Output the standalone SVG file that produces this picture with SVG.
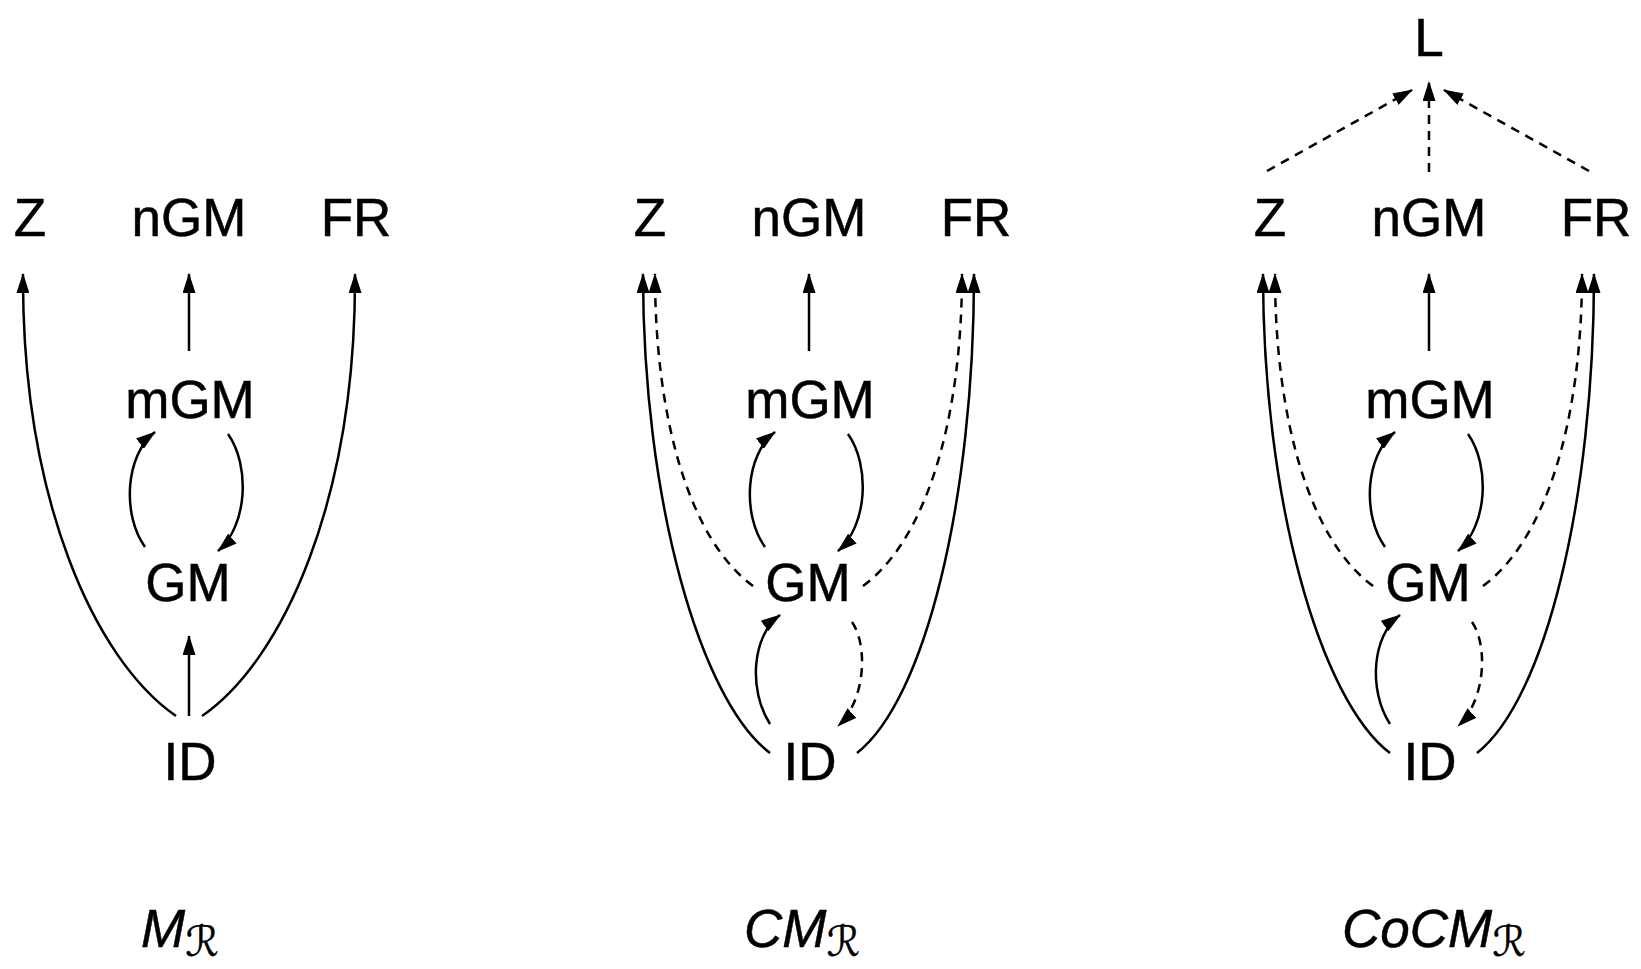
<svg xmlns="http://www.w3.org/2000/svg" width="1641" height="969" viewBox="0 0 1641 969">
<style>
.n{font-family:"Liberation Sans",Arial,sans-serif;font-size:53px;fill:#000;text-anchor:middle;stroke:#000;stroke-width:0.5}
.lab{font-family:"Liberation Sans",Arial,sans-serif;font-size:53px;font-style:italic;fill:#000;stroke:#000;stroke-width:0.5}
.sub{font-family:"DejaVu Sans",sans-serif;font-size:42px;font-style:normal;stroke-width:0.3}
.c{fill:none;stroke:#000;stroke-width:2.5;marker-end:url(#ah)}
.d{stroke-dasharray:9 7}
</style>
<defs>
<marker id="ah" viewBox="0 0 20 13" refX="19" refY="6.5" markerWidth="20" markerHeight="13" markerUnits="userSpaceOnUse" orient="auto">
<path d="M0,0 L20,6.5 L0,13 z" fill="#000"/>
</marker>
</defs>
<rect width="1641" height="969" fill="#fff"/>
<g id="connectors">
<!-- panel 1 -->
<path class="c" d="M189,351 V274"/>
<path class="c" d="M145,547 C122,515 125,455 155,432"/>
<path class="c" d="M228,434 C250,465 248,525 218,551"/>
<path class="c" d="M189,716 V636"/>
<path class="c" d="M176,716 C95,660 22,500 23,274"/>
<path class="c" d="M202,716 C283,660 356,500 355,274"/>
<!-- panel 2 -->
<path class="c" d="M809,351 V274"/>
<path class="c" d="M765,547 C742,515 745,455 775,432"/>
<path class="c" d="M848,434 C870,465 868,525 838,551"/>
<path class="c" d="M770,753 C700,700 643,500 643,274"/>
<path class="c d" d="M753,586 C690,540 655,420 655,274"/>
<path class="c" d="M857,753 C925,700 974,500 974,274"/>
<path class="c d" d="M863,586 C926,540 962,420 962,274"/>
<path class="c" d="M770,724 C748,690 752,635 780,615"/>
<path class="c d" d="M852,622 C868,645 866,700 838,726"/>
<!-- panel 3 -->
<path class="c" d="M1429,351 V274"/>
<path class="c" d="M1385,547 C1362,515 1365,455 1395,432"/>
<path class="c" d="M1468,434 C1490,465 1488,525 1458,551"/>
<path class="c" d="M1390,753 C1320,700 1263,500 1263,274"/>
<path class="c d" d="M1373,586 C1310,540 1275,420 1275,274"/>
<path class="c" d="M1477,753 C1545,700 1594,500 1594,274"/>
<path class="c d" d="M1483,586 C1546,540 1582,420 1582,274"/>
<path class="c" d="M1390,724 C1368,690 1372,635 1400,615"/>
<path class="c d" d="M1472,622 C1488,645 1486,700 1458,726"/>
<path class="c d" d="M1267,171 L1412,90"/>
<path class="c d" d="M1429,172 V82"/>
<path class="c d" d="M1589,171 L1444,90"/>
</g>
<!-- panel 1 nodes -->
<g id="p1-Z"><text class="n" x="30" y="236">Z</text></g>
<g id="p1-nGM"><text class="n" x="189" y="236">nGM</text></g>
<g id="p1-FR"><text class="n" x="356" y="236">FR</text></g>
<g id="p1-mGM"><text class="n" x="190" y="418">mGM</text></g>
<g id="p1-GM"><text class="n" x="188" y="601">GM</text></g>
<g id="p1-ID"><text class="n" x="190" y="780">ID</text></g>
<g id="p1-label"><text class="lab" x="141" y="947">M<tspan class="sub" dy="9">ℛ</tspan></text></g>
<!-- panel 2 nodes -->
<g id="p2-Z"><text class="n" x="650" y="236">Z</text></g>
<g id="p2-nGM"><text class="n" x="809" y="236">nGM</text></g>
<g id="p2-FR"><text class="n" x="976" y="236">FR</text></g>
<g id="p2-mGM"><text class="n" x="810" y="418">mGM</text></g>
<g id="p2-GM"><text class="n" x="808" y="601">GM</text></g>
<g id="p2-ID"><text class="n" x="810" y="780">ID</text></g>
<g id="p2-label"><text class="lab" x="744" y="947">CM<tspan class="sub" dy="9">ℛ</tspan></text></g>
<!-- panel 3 nodes -->
<g id="p3-L"><text class="n" x="1429" y="56">L</text></g>
<g id="p3-Z"><text class="n" x="1270" y="236">Z</text></g>
<g id="p3-nGM"><text class="n" x="1429" y="236">nGM</text></g>
<g id="p3-FR"><text class="n" x="1596" y="236">FR</text></g>
<g id="p3-mGM"><text class="n" x="1430" y="418">mGM</text></g>
<g id="p3-GM"><text class="n" x="1428" y="601">GM</text></g>
<g id="p3-ID"><text class="n" x="1430" y="780">ID</text></g>
<g id="p3-label"><text class="lab" x="1342" y="947">CoCM<tspan class="sub" dy="9">ℛ</tspan></text></g>
</svg>
